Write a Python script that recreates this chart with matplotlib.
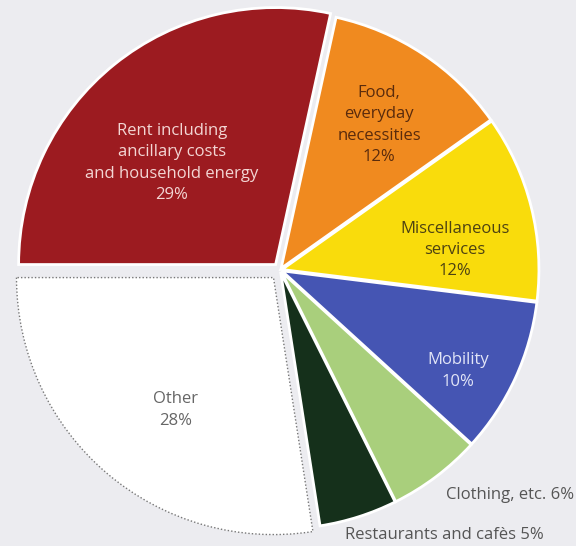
import matplotlib
matplotlib.use('Agg')
import matplotlib.pyplot as plt

# household spending shares (%)
categories = ['Rent including\nancillary costs\nand household energy', 'Food,\neveryday\nnecessities',
              'Miscellaneous\nservices', 'Mobility', 'Clothing, etc.', 'Restaurants and cafès', 'Other']
shares = [29, 12, 12, 10, 6, 5, 28]

colors = ['#9c1b20', '#f08a1f', '#f9dc0c', '#4555b3', '#a9cf7c', '#15301b', '#ffffff']
# pie offsets are in data units (pixels here)
explode = [7, 2, 2, 2, 2, 2, 10]
text_colors = ['#f3d6d4', '#5a2b0c', '#4d4212', '#e2e5f7', '#555555', '#555555', '#666666']
# label anchor points in pixel space (y measured from the bottom)
label_xy = [(172, 383), (379, 421), (455, 296), (458, 175), (574, 51), (444, 11), (176, 136)]
inside = [True, True, True, True, False, False, True]

plt.rcParams['font.family'] = ['Open Sans', 'DejaVu Sans']

fig = plt.figure(figsize=(5.76, 5.46), dpi=100)
fig.patch.set_facecolor('#ececf0')
ax = fig.add_axes([0, 0, 1, 1])
ax.set_facecolor('#ececf0')

wedges, _ = ax.pie(shares, colors=colors, explode=explode, startangle=180, counterclock=False,
                   center=(280, 276), radius=257, frame=True,
                   wedgeprops=dict(edgecolor='white', linewidth=2))

# "Other" is drawn open, with a dotted grey border
other = wedges[-1]
other.set_edgecolor('#777777')
other.set_linestyle((0, (1, 1.5)))
other.set_linewidth(1.0)

ax.set_xlim(0, 576)
ax.set_ylim(0, 546)
ax.set_aspect('equal')
ax.axis('off')

for name, val, (x, y), tc, ins in zip(categories, shares, label_xy, text_colors, inside):
    if ins:
        ax.text(x, y, f'{name}\n{val}%', ha='center', va='center', color=tc,
                fontsize=12, linespacing=1.45)
    else:
        ha = 'right' if name.startswith('Clothing') else 'center'
        ax.text(x, y, f'{name} {val}%', ha=ha, va='center', color=tc, fontsize=12)

fig.savefig('out.png', dpi=100, facecolor=fig.get_facecolor())
